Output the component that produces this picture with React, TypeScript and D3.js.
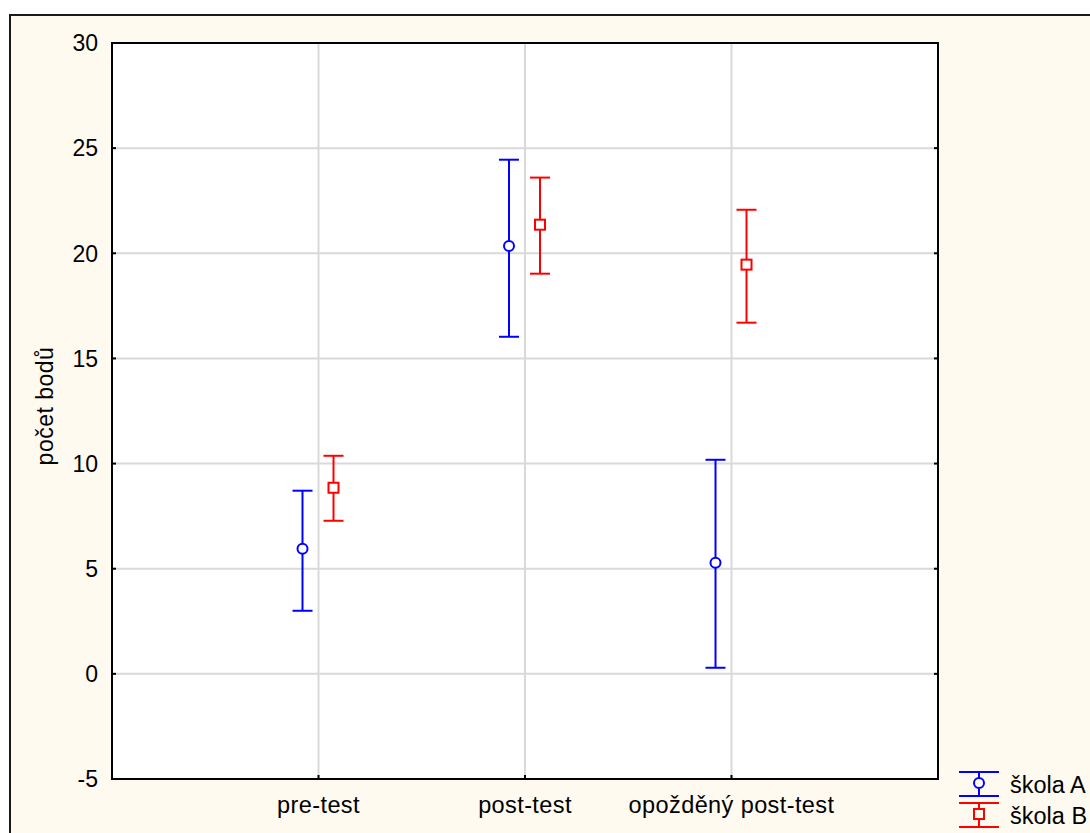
import React, { useEffect, useRef } from 'react';
import * as d3 from 'd3';

const categories = ['pre-test', 'post-test', 'opožděný post-test'];
const seriesNames = ['škola A', 'škola B'];
const meanA = [5.95, 20.35, 5.28];
const lowA = [3.0, 16.03, 0.29];
const highA = [8.71, 24.45, 10.18];
const meanB = [8.85, 21.36, 19.46];
const lowB = [7.28, 19.03, 16.7];
const highB = [10.37, 23.6, 22.07];
const yTicks = [-5, 0, 5, 10, 15, 20, 25, 30];

const FONT = '"Liberation Sans", Arial, sans-serif';

const App = () => {
  const svgRef = useRef<SVGSVGElement>(null);

  useEffect(() => {
    const svg = d3.select(svgRef.current);
    svg.selectAll('*').remove();

    const W = 1090;
    const H = 833;
    const plot = { left: 112, right: 938, top: 43, bottom: 779 };

    // outer frame (cropped at the right/bottom in the original)
    svg.append('rect')
      .attr('x', 0).attr('y', 0).attr('width', W).attr('height', H)
      .attr('fill', '#ffffff');
    svg.append('rect')
      .attr('x', 10).attr('y', 15).attr('width', W + 20).attr('height', H + 20)
      .attr('fill', '#fffaf0')
      .attr('stroke', '#1a1a1a')
      .attr('stroke-width', 2);

    svg.append('rect')
      .attr('x', plot.left).attr('y', plot.top)
      .attr('width', plot.right - plot.left).attr('height', plot.bottom - plot.top)
      .attr('fill', '#ffffff');

    const x = d3.scalePoint<string>()
      .domain(categories)
      .range([plot.left, plot.right])
      .padding(1);

    const y = d3.scaleLinear()
      .domain([-5, 30])
      .range([plot.bottom, plot.top]);

    const grid = svg.append('g');
    yTicks.filter(t => t > -5 && t < 30).forEach(t => {
      grid.append('line')
        .attr('x1', plot.left).attr('x2', plot.right)
        .attr('y1', y(t)).attr('y2', y(t))
        .attr('stroke', '#d9d9d9').attr('stroke-width', 2);
    });
    categories.forEach(c => {
      grid.append('line')
        .attr('x1', x(c)!).attr('x2', x(c)!)
        .attr('y1', plot.top).attr('y2', plot.bottom)
        .attr('stroke', '#d9d9d9').attr('stroke-width', 2);
    });

    // ticks (inward)
    const ticks = svg.append('g').attr('stroke', '#000').attr('stroke-width', 2);
    yTicks.forEach(t => {
      ticks.append('line')
        .attr('x1', plot.left).attr('x2', plot.left + 4)
        .attr('y1', y(t)).attr('y2', y(t));
      ticks.append('line')
        .attr('x1', plot.right - 4).attr('x2', plot.right)
        .attr('y1', y(t)).attr('y2', y(t));
    });
    categories.forEach(c => {
      ticks.append('line')
        .attr('x1', x(c)!).attr('x2', x(c)!)
        .attr('y1', plot.bottom - 4).attr('y2', plot.bottom);
    });

    svg.append('rect')
      .attr('x', plot.left).attr('y', plot.top)
      .attr('width', plot.right - plot.left).attr('height', plot.bottom - plot.top)
      .attr('fill', 'none')
      .attr('stroke', '#000').attr('stroke-width', 2);

    // tick labels
    yTicks.forEach(t => {
      svg.append('text')
        .attr('x', 98).attr('y', y(t))
        .attr('dy', '0.36em')
        .attr('text-anchor', 'end')
        .style('font-family', FONT).style('font-size', '23px')
        .attr('fill', '#000')
        .text(t);
    });
    categories.forEach(c => {
      svg.append('text')
        .attr('x', x(c)!).attr('y', 813)
        .attr('text-anchor', 'middle')
        .style('font-family', FONT).style('font-size', '23.5px')
        .style('letter-spacing', '0.4px')
        .attr('fill', '#000')
        .text(c);
    });

    svg.append('text')
      .attr('transform', `translate(53, 406) rotate(-90)`)
      .attr('text-anchor', 'middle')
      .style('font-family', FONT).style('font-size', '23px')
      .style('letter-spacing', '0.5px')
      .attr('fill', '#000')
      .text('počet bodů');

    // error bars
    const series = [
      { mean: meanA, low: lowA, high: highA, color: '#0000ff', dx: -16, marker: 'circle' },
      { mean: meanB, low: lowB, high: highB, color: '#ff0000', dx: 15, marker: 'square' },
    ];

    series.forEach(s => {
      const g = svg.append('g')
        .attr('stroke', s.color).attr('stroke-width', 2).attr('fill', 'none');
      categories.forEach((c, i) => {
        const cx = x(c)! + s.dx;
        g.append('line')
          .attr('x1', cx).attr('x2', cx)
          .attr('y1', y(s.low[i])).attr('y2', y(s.high[i]));
        [s.low[i], s.high[i]].forEach(v => {
          g.append('line')
            .attr('x1', cx - 10).attr('x2', cx + 10)
            .attr('y1', y(v)).attr('y2', y(v));
        });
        if (s.marker === 'circle') {
          g.append('circle')
            .attr('cx', cx).attr('cy', y(s.mean[i])).attr('r', 5)
            .attr('fill', '#ffffff');
        } else {
          g.append('rect')
            .attr('x', cx - 5).attr('y', y(s.mean[i]) - 5)
            .attr('width', 10).attr('height', 10)
            .attr('fill', '#ffffff');
        }
      });
    });

    // legend
    series.forEach((s, i) => {
      const ly = 783 + i * 31;
      const lx = 979;
      const g = svg.append('g')
        .attr('stroke', s.color).attr('stroke-width', 2).attr('fill', 'none');
      g.append('line').attr('x1', lx - 20).attr('x2', lx + 20).attr('y1', ly - 11).attr('y2', ly - 11);
      g.append('line').attr('x1', lx - 20).attr('x2', lx + 20).attr('y1', ly + 13).attr('y2', ly + 13);
      g.append('line').attr('x1', lx).attr('x2', lx).attr('y1', ly - 11).attr('y2', ly + 13);
      if (s.marker === 'circle') {
        g.append('circle').attr('cx', lx).attr('cy', ly).attr('r', 5).attr('fill', '#fffaf0');
      } else {
        g.append('rect').attr('x', lx - 5).attr('y', ly - 5).attr('width', 10).attr('height', 10).attr('fill', '#fffaf0');
      }
      svg.append('text')
        .attr('x', 1010).attr('y', ly + 10)
        .style('font-family', FONT).style('font-size', '23.5px')
        .attr('fill', '#000')
        .text(seriesNames[i]);
    });
  }, []);

  return (
    <svg
      ref={svgRef}
      width={1090}
      height={833}
      style={{ position: 'absolute', left: 0, top: 0, display: 'block' }}
    />
  );
};

export default App;
